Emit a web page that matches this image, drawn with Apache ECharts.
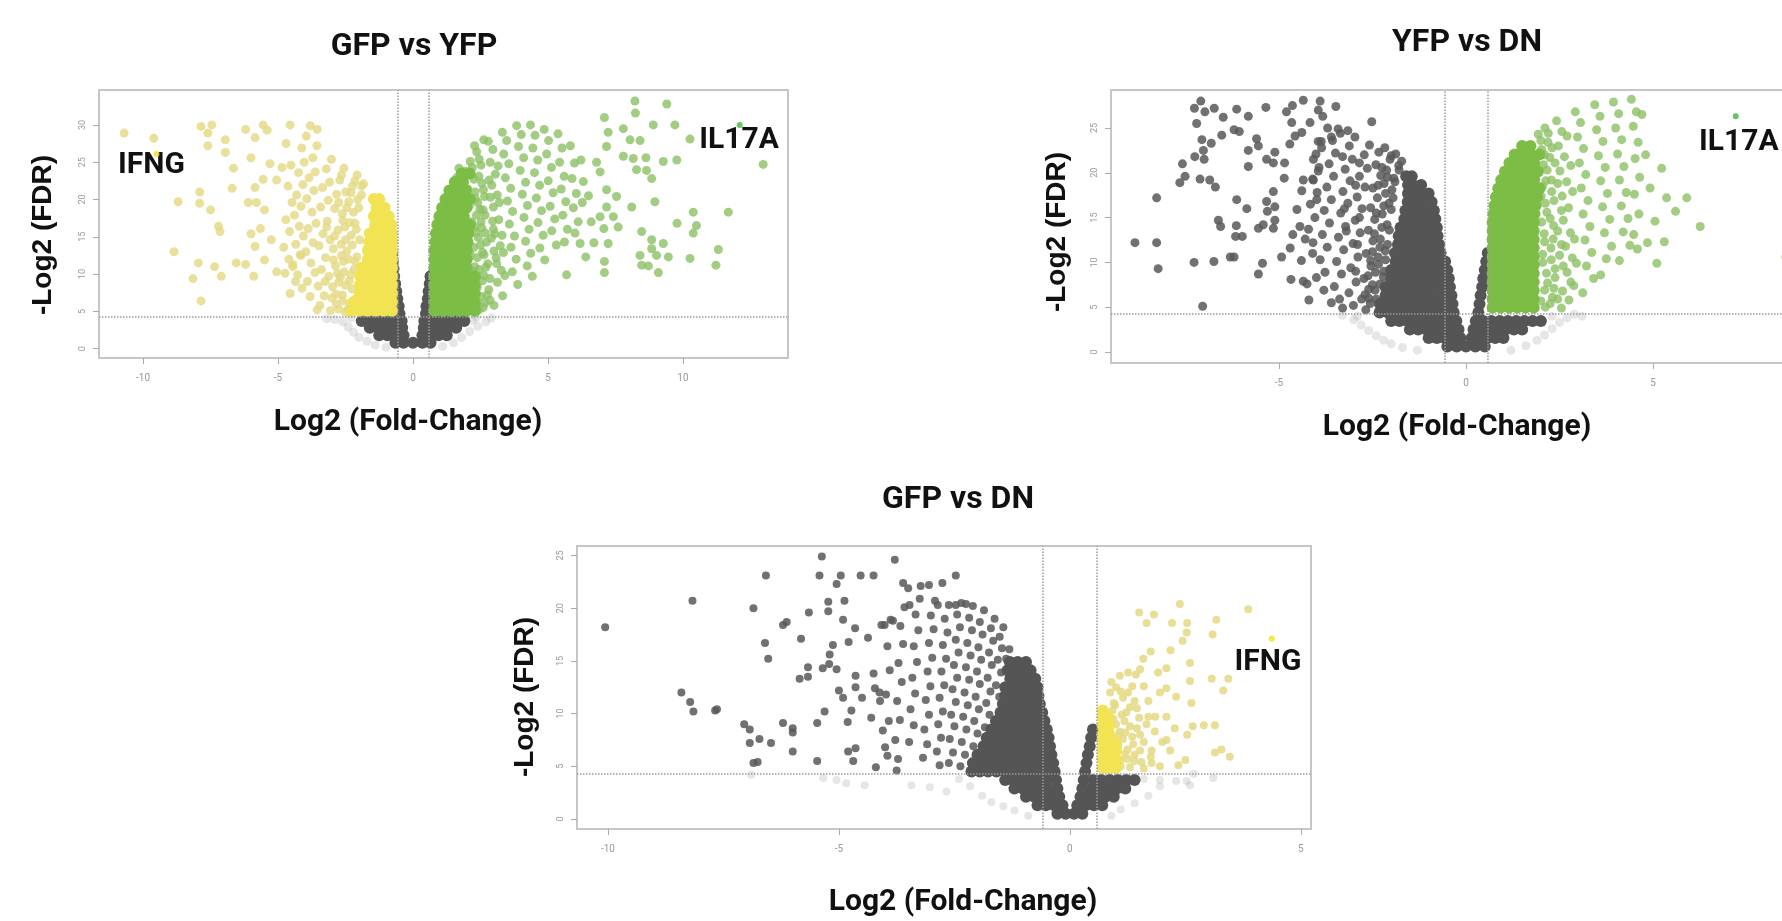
<!DOCTYPE html>
<html>
<head>
<meta charset="utf-8">
<script src="https://cdn.jsdelivr.net/npm/echarts@6.0.0/dist/echarts.min.js"></script>
<style>
  html, body { margin: 0; padding: 0; overflow: hidden; background: #fff; }
  #volcano { width: 1800px; height: 921px; }
</style>
</head>
<body>
<div id="volcano"></div>
<script>
// thresholds: -log2(0.05) and log2(1.5)
var fdrCut = 4.32;
var fcCut = 0.585;

var titles = ['GFP vs YFP', 'YFP vs DN', 'GFP vs DN'];
var xName = 'Log2 (Fold-Change)';
var yName = '-Log2 (FDR)';

var p1XTicks = [-10, -5, 0, 5, 10];
var p1YTicks = [0, 5, 10, 15, 20, 25, 30];
var p2XTicks = [-5, 0, 5];
var p2YTicks = [0, 5, 10, 15, 20, 25];
var p3XTicks = [-10, -5, 0, 5];
var p3YTicks = [0, 5, 10, 15, 20, 25];

// dense areas are kept as rows: [y, x, x, ...]
var p1GrayRows = [
  [0.8, -0.65, -0.35, 0, 0.35, 0.65],
  [1.8, -1.25, -0.95, -0.65, -0.35, 0.35, 0.65, 0.95, 1.25],
  [2.8, -1.6, -1.3, -1.0, -0.7, -0.4, 0.4, 0.7, 1.0, 1.3, 1.6],
  [3.7, -1.9, -1.6, -1.3, -1.0, -0.7, -0.42, 0.42, 0.7, 1.0, 1.3, 1.6, 1.9],
  [4.7, -0.5, 0.48], [5.7, -0.53, 0.5], [6.7, -0.58, 0.55], [7.7, -0.62, 0.58],
  [8.7, -0.66, 0.62], [9.7, -0.7, 0.65], [10.7, -0.72], [11.7, -0.75], [12.7, -0.78]
];
var p1GrayLight = [[-2.6,3.6],[-2.4,2.9],[-2.2,2.2],[-2.9,3.9],[-2.0,1.5],[-1.7,1.0],[-1.4,0.5],[-3.2,4.0],
  [2.2,3.8],[2.4,3.0],[2.1,2.3],[1.8,1.5],[1.5,0.8],[2.7,3.6],[2.9,4.1],[1.1,0.3],[-1.0,0.2],[-2.3,4.1],[2.35,4.2]];
var p1YellowRows = [
  [5.1, -0.77, -1.07, -1.37, -1.67, -1.97, -2.27],
  [6.25, -0.77, -1.07, -1.37, -1.67, -1.97, -2.2],
  [7.4, -0.77, -1.07, -1.37, -1.67, -1.97],
  [8.55, -0.77, -1.07, -1.37, -1.67, -1.97],
  [9.7, -0.77, -1.07, -1.37, -1.67, -1.95],
  [10.85, -0.77, -1.07, -1.37, -1.67, -1.9],
  [12.0, -0.77, -1.07, -1.37, -1.67],
  [13.15, -0.77, -1.07, -1.37, -1.67],
  [14.3, -0.77, -1.07, -1.37, -1.62],
  [15.45, -0.77, -1.07, -1.37, -1.6],
  [16.6, -0.8, -1.1, -1.4],
  [17.75, -0.9, -1.2, -1.45],
  [18.9, -1.05, -1.35],
  [20.05, -1.25, -1.45]
];
var p1Yellow = [[-10.7,28.9],[-9.6,28.2],[-7.85,29.8],[-7.45,30.0],[-7.6,28.9],[-7.6,27.2],[-6.95,28.0],[-6.95,26.3],
  [-6.65,24.2],[-6.2,29.4],[-5.85,28.3],[-6.0,25.6],[-5.55,30.0],[-5.4,29.3],[-4.55,30.0],[-4.7,27.5],[-3.8,29.9],
  [-3.55,29.4],[-8.7,19.7],[-7.9,21.0],[-7.9,19.5],[-7.5,18.6],[-7.2,16.4],[-7.15,15.7],[-8.85,13.0],[-7.95,11.5],
  [-7.35,11.0],[-8.15,9.4],[-7.1,9.7],[-7.85,6.4],[-6.55,11.5],[-6.2,11.3],[-5.9,9.7],[-5.5,11.9],[-6.7,21.5],
  [-5.85,21.6],[-6.1,19.6],[-5.8,19.6],[-5.5,18.6],[-5.3,24.8],[-4.85,24.3],[-5.55,22.7],[-5.05,22.6],[-5.25,14.6],
  [-6.0,15.4],[-5.65,16.1],[-5.85,13.7],[-5.05,10.3],[-4.55,7.4],[-4.45,11.0],[-4.15,12.5],[-4.35,9.0],[-3.55,5.2],
  [-1.83,22.1],[-2.07,23.3],[-1.91,20.6],[-2.24,21.8],[-2.01,18.9],[-2.38,19.7],[-2.15,16.8],[-1.97,14.6],[-2.29,15.2],
  [-2.08,12.3],[-2.45,13.1],[-2.19,10.6],[-2.02,8.4],[-2.36,9.1],[-2.12,6.7],[-2.41,5.3],[-2.27,4.8],
  [-2.56,24.2],[-2.71,22.6],[-2.49,21.0],[-2.83,20.7],[-2.62,18.1],[-2.9,18.8],[-2.53,16.3],[-2.78,15.9],[-2.66,14.0],
  [-2.95,13.4],[-2.58,11.7],[-2.87,11.1],[-2.69,9.6],[-2.98,8.3],[-2.61,7.2],[-2.84,6.0],[-3.06,5.1],
  [-3.02,25.4],[-3.21,24.1],[-3.09,22.3],[-3.35,21.6],[-3.14,19.9],[-3.42,19.0],[-3.18,17.1],[-3.33,15.4],[-3.07,14.6],
  [-3.48,13.8],[-3.24,12.2],[-3.39,10.6],[-3.12,9.7],[-3.51,8.4],[-3.29,7.1],[-3.45,5.8],
  [-3.56,27.2],[-3.71,25.6],[-3.62,23.7],[-3.85,22.9],[-3.67,21.2],[-3.93,20.1],[-3.74,18.3],[-3.59,16.8],[-3.88,16.1],
  [-3.7,14.2],[-3.97,13.0],[-3.78,11.5],[-3.63,10.2],[-3.91,9.0],[-3.81,7.0],
  [-3.95,28.5],[-4.12,26.9],[-4.03,25.0],[-4.24,23.6],[-4.08,22.0],[-4.31,20.6],[-4.15,19.1],[-4.39,17.9],[-4.21,16.4],
  [-4.06,15.1],[-4.34,14.0],[-4.18,12.6],[-4.45,11.3],[-4.27,9.9],[-4.11,8.1],
  [-4.52,24.6],[-4.63,21.8],[-4.48,19.6],[-4.71,17.3],[-4.57,15.7],[-4.79,13.6],[-4.6,12.0],[-4.74,10.1],
  [-1.9,21.8],[-2.15,22.5],[-2.05,20.0],[-2.3,20.9],[-2.2,18.3],[-2.45,18.9],[-2.1,16.0],[-2.35,16.9],[-2.6,17.2],
  [-2.25,13.9],[-2.5,14.6],[-2.15,11.7],[-2.4,12.0],[-2.65,12.5],[-2.3,9.9],[-2.55,10.3],[-2.8,10.1],[-2.25,8.0],
  [-2.5,8.5],[-2.75,8.9],[-2.35,6.0],[-2.6,6.4],[-2.85,7.3],[-2.5,4.9],[-2.75,5.3],[-2.95,11.9],[-2.9,15.1],
  [-2.75,19.6],[-2.65,23.3],[-3.2,16.3],[-3.0,6.8],[-3.25,9.0]];
var p1GreenRows = [
  [5.1, 0.79, 1.09, 1.39, 1.69, 1.99, 2.29],
  [6.25, 0.79, 1.09, 1.39, 1.69, 1.99, 2.29],
  [7.4, 0.79, 1.09, 1.39, 1.69, 1.99, 2.29],
  [8.55, 0.79, 1.09, 1.39, 1.69, 1.99, 2.29],
  [9.7, 0.79, 1.09, 1.39, 1.69, 1.99, 2.29],
  [10.85, 0.79, 1.09, 1.39, 1.69, 1.99],
  [12.0, 0.79, 1.09, 1.39, 1.69, 1.99],
  [13.15, 0.79, 1.09, 1.39, 1.69, 1.99],
  [14.3, 0.82, 1.12, 1.42, 1.72, 2.02],
  [15.45, 0.85, 1.15, 1.45, 1.75, 2.05],
  [16.6, 0.9, 1.2, 1.5, 1.8, 2.1],
  [17.75, 0.98, 1.28, 1.58, 1.88],
  [18.9, 1.08, 1.38, 1.68, 1.98],
  [20.05, 1.2, 1.5, 1.8, 2.1],
  [21.2, 1.35, 1.65, 1.95],
  [22.35, 1.55, 1.85],
  [23.5, 1.8, 2.1]
];
var p1Green = [[1.94,23.8],[2.12,25.1],[2.03,21.4],[2.26,22.7],[2.09,19.2],[2.31,20.1],[2.17,17.0],[2.02,14.9],[2.35,15.6],
  [2.13,12.6],[2.29,11.0],[2.06,9.3],[2.38,8.2],[2.21,6.6],[2.44,5.2],
  [2.36,26.4],[2.52,24.6],[2.44,23.1],[2.61,21.3],[2.48,18.7],[2.67,17.9],[2.55,16.2],[2.72,14.3],[2.58,12.9],
  [2.77,11.4],[2.63,9.8],[2.81,7.9],[2.66,6.1],
  [2.79,27.8],[2.96,26.7],[2.86,25.0],[3.05,23.4],[2.92,21.9],[3.12,20.6],[2.98,19.0],[3.18,17.3],[3.03,15.4],
  [3.23,13.8],[3.08,12.2],[3.27,10.5],[3.13,8.9],[3.32,7.1],[3.0,5.8],
  [3.31,29.0],[3.47,27.9],[3.36,26.1],[3.55,24.8],[3.42,22.9],[3.62,21.5],[3.5,19.8],[3.69,18.4],[3.57,16.7],
  [3.76,15.1],[3.63,13.6],[3.82,12.0],[3.68,10.3],[3.88,8.6],
  [3.84,29.9],[4.01,28.7],[3.91,27.1],[4.1,25.6],[3.97,23.9],[4.17,22.3],[4.05,20.7],[4.24,19.2],[4.11,17.6],
  [4.3,16.0],[4.17,14.4],[4.36,12.8],[4.23,11.1],[4.42,9.7],
  [4.35,30.0],[4.52,28.6],[4.44,26.9],[4.62,25.3],[4.5,23.6],[4.69,21.9],[4.57,20.2],[4.76,18.5],[4.63,16.9],
  [4.82,15.2],[4.7,13.5],[4.88,11.9],
  [4.86,29.4],[5.02,27.9],[4.95,26.1],[5.13,24.3],[5.01,22.5],[5.19,20.9],[5.08,19.1],[5.25,17.4],[5.14,15.8],[5.31,13.9],
  [5.37,28.8],[5.52,26.9],[5.43,25.0],[5.6,23.1],[5.49,21.4],[5.66,19.7],[5.55,17.9],[5.72,16.0],[5.61,14.3],
  [5.83,27.2],[5.98,24.9],[5.89,22.8],[6.05,20.8],[5.94,18.9],[6.12,17.0],[6.0,15.5],
  [6.22,25.3],[6.31,22.4],[6.27,19.6],[1.7,24.2],[1.62,22.9],[2.28,27.2],[2.62,28.0],
  [2.2,24.3],[2.45,25.4],[2.3,21.0],[2.55,22.2],[2.4,19.6],[2.65,20.4],[2.35,17.9],[2.6,18.6],[2.28,16.3],[2.52,17.0],
  [2.42,14.9],[2.68,15.5],[2.25,13.6],[2.5,13.9],[2.38,12.2],[2.63,12.6],[2.2,10.3],[2.45,10.6],[2.7,10.9],[2.32,8.9],
  [2.57,9.1],[2.85,9.4],[2.27,7.3],[2.52,7.0],[2.75,7.2],[2.36,5.9],[2.6,5.5],[2.85,6.5],[2.9,14.8],[2.95,17.1],
  [2.87,20.3],[2.82,22.6],[3.15,24.5],[3.2,19.6],[3.1,11.4],[3.0,13.1],[2.98,16.0],[3.3,15.2],[3.35,12.9],[3.4,9.8],
  [8.22,33.2],[9.4,32.8],[8.24,31.6],[7.09,31.0],[7.79,29.5],[7.23,29.0],[8.9,30.0],[9.7,30.0],[8.04,28.0],
  [8.41,27.9],[10.26,28.1],[12.97,24.7],[7.17,27.1],[7.79,25.8],[8.16,25.5],[8.63,25.6],[9.27,25.1],[9.77,25.3],
  [8.28,24.0],[8.65,23.9],[8.84,22.8],[6.8,25.0],[6.93,23.7],[7.17,21.3],[7.54,20.4],[7.17,19.0],[6.93,17.7],
  [7.42,17.7],[7.07,16.1],[8.1,19.0],[8.96,19.7],[10.38,18.3],[10.5,16.5],[10.38,15.5],[9.78,16.8],[11.68,18.3],
  [8.47,15.7],[8.84,14.6],[9.27,14.1],[8.84,13.4],[8.41,12.5],[9.02,12.5],[9.46,12.3],[8.47,11.2],[8.72,11.1],
  [9.09,10.2],[10.26,12.1],[11.31,13.3],[11.22,11.2],[7.09,11.7],[7.09,10.2],[6.7,14.2],[7.23,14.1],[6.19,14.1],
  [7.6,16.3],[5.69,9.9],[6.5,20.5],[6.6,17.0],[6.4,12.3]];
var p1Genes = [{name: 'IFNG', value: [-9.5, 26.1], color: '#f3e21a'}, {name: 'IL17A', value: [12.1, 30.0], color: '#3cb83c'}];

var p2GrayRows = [
  [0.6, -0.5, -0.25, 0, 0.25, 0.5],
  [1.55, -1.0, -0.78, -0.56, -0.34, -0.15, 0.15, 0.34, 0.56, 0.78, 1.0],
  [2.5, -1.5, -1.28, -1.06, -0.84, -0.62, -0.4, -0.2, 0.2, 0.4, 0.62, 0.84, 1.06, 1.28, 1.5],
  [3.45, -2.0, -1.78, -1.56, -1.34, -1.12, -0.9, -0.68, -0.46, -0.26, 0.26, 0.46, 0.68, 0.9, 1.12, 1.34, 1.56, 1.78, 2.0],
  [4.4, 0.33], [5.35, 0.36], [6.3, 0.39], [7.25, 0.43], [8.2, 0.46], [9.15, 0.5], [10.1, 0.54], [11.05, 0.58],
  [4.4, -0.33, -0.55, -0.77, -0.99, -1.21, -1.43, -1.65, -1.87, -2.09, -2.31],
  [5.35, -0.36, -0.58, -0.8, -1.02, -1.24, -1.46, -1.68, -1.9, -2.12, -2.3],
  [6.3, -0.39, -0.61, -0.83, -1.05, -1.27, -1.49, -1.71, -1.93, -2.15],
  [7.25, -0.43, -0.65, -0.87, -1.09, -1.31, -1.53, -1.75, -1.97, -2.15],
  [8.2, -0.46, -0.68, -0.9, -1.12, -1.34, -1.56, -1.78, -2.0],
  [9.15, -0.5, -0.72, -0.94, -1.16, -1.38, -1.6, -1.82, -2.0],
  [10.1, -0.56, -0.78, -1.0, -1.22, -1.44, -1.66, -1.88],
  [11.05, -0.68, -0.9, -1.12, -1.34, -1.56, -1.78, -1.9],
  [12.0, -0.72, -0.94, -1.16, -1.38, -1.6, -1.82],
  [12.95, -0.76, -0.98, -1.2, -1.42, -1.64, -1.8],
  [13.9, -0.78, -1.0, -1.22, -1.44, -1.66, -1.75],
  [14.85, -0.82, -1.04, -1.26, -1.48, -1.65],
  [15.8, -0.86, -1.08, -1.3, -1.52, -1.62],
  [16.75, -0.92, -1.14, -1.36, -1.56],
  [17.7, -1.0, -1.22, -1.44, -1.55],
  [18.65, -1.2, -1.42, -1.55],
  [19.6, -1.45, -1.6]
];
var p2GrayLight = [[-3.0,3.6],[-2.8,3.0],[-2.6,2.4],[-2.9,4.0],[-2.4,1.8],[-2.2,1.3],[-3.3,4.1],[-2.0,0.9],[-1.7,0.5],
  [2.3,4.0],[2.5,3.3],[2.7,3.8],[2.3,2.6],[2.1,1.9],[1.9,1.3],[2.9,4.2],[3.1,4.0],[1.6,0.7],[-1.3,0.2],[1.2,0.2]];
var p2Gray = [[-7.09,28.0],[-7.26,27.2],[-6.98,26.8],[-6.73,27.2],[-6.13,27.1],[-5.82,26.3],[-5.35,27.3],[-4.8,26.8],
  [-4.64,27.5],[-4.35,28.1],[-3.9,28.0],[-3.48,27.4],[-3.95,27.0],[-3.83,26.3],[-2.52,25.7],[-7.2,25.5],[-6.49,26.2],
  [-6.2,24.8],[-7.06,23.7],[-6.81,23.3],[-7.02,22.5],[-7.0,21.5],[-7.25,21.8],[-7.58,21.0],[-6.53,24.2],[-6.06,24.6],
  [-5.82,22.5],[-5.82,20.7],[-5.6,23.8],[-5.55,23.0],[-5.33,21.5],[-5.15,21.1],[-4.86,19.4],[-7.65,18.9],[-7.51,19.6],
  [-7.11,19.3],[-6.85,19.2],[-6.7,18.4],[-8.27,17.2],[-8.85,12.2],[-8.27,12.2],[-8.23,9.3],[-7.27,10.0],[-6.74,10.1],
  [-7.04,5.1],[-6.13,17.0],[-5.86,16.0],[-6.62,14.7],[-6.56,14.0],[-6.14,14.1],[-5.98,12.9],[-6.16,12.9],[-6.3,10.6],
  [-6.2,10.6],[-5.55,13.8],[-5.42,14.2],[-5.55,8.7],[-5.44,9.9],[-5.33,16.8],[-5.31,15.7],[-5.15,17.9],[-5.11,16.2],
  [-5.11,14.7],[-5.15,13.8],[-4.93,10.6],[-4.68,8.1],[-4.35,7.9],[-4.63,13.1],[-4.44,14.0],[-4.52,15.9],[-4.85,21.1],
  [-5.11,22.3],[-4.71,23.2],[-4.57,24.1],[-4.66,25.6],[-4.39,24.5],[-4.17,25.6],[-3.95,23.5],[-3.86,22.8],[-4.08,21.5],
  [-3.95,20.2],[-3.7,25.0],[-3.6,24.0],[-3.36,24.4],[-3.16,24.7],[-4.35,19.2],[-4.08,19.2],[-4.39,18.0],[-3.99,17.0],
  [-4.3,12.6],[-4.1,11.0],[-4.4,10.2],[-4.0,8.3],[-3.8,6.9],[-3.6,5.5],[-4.2,5.8],[-3.3,4.9],[-4.7,11.6],
  [-1.72,21.3],[-1.88,22.1],[-1.79,20.3],[-2.03,21.5],[-1.93,19.4],[-2.12,20.3],[-1.98,18.1],[-2.19,18.8],[-2.06,16.6],
  [-2.24,15.4],[-2.11,14.2],[-2.29,12.6],[-2.16,11.3],[-2.34,9.8],[-2.21,8.4],[-2.43,6.9],[-2.56,5.4],[-2.68,4.7],
  [-2.17,22.8],[-2.33,22.3],[-2.41,20.9],[-2.28,19.7],[-2.49,18.3],[-2.37,17.2],[-2.55,16.1],[-2.44,14.8],[-2.61,13.6],
  [-2.49,12.4],[-2.67,11.0],[-2.54,9.6],[-2.73,8.2],[-2.6,7.0],[-2.79,5.9],
  [-2.58,23.1],[-2.72,22.0],[-2.64,20.5],[-2.85,19.6],[-2.7,18.4],[-2.91,17.3],[-2.78,16.0],[-2.96,14.7],[-2.83,13.3],
  [-3.02,12.1],[-2.89,10.6],[-3.08,9.4],[-2.94,7.8],[-3.13,6.6],[-3.01,5.2],
  [-2.97,24.0],[-3.12,23.0],[-3.04,21.5],[-3.23,20.4],[-3.1,19.1],[-3.29,17.9],[-3.16,16.6],[-3.35,15.5],[-3.22,14.0],
  [-3.41,12.8],[-3.27,11.4],[-3.46,10.1],[-3.33,8.7],[-3.52,7.3],[-3.38,5.9],
  [-3.42,24.9],[-3.57,23.6],[-3.49,22.2],[-3.66,21.0],[-3.54,19.6],[-3.72,18.4],[-3.6,17.0],[-3.79,15.8],[-3.65,14.4],
  [-3.84,13.1],[-3.71,11.7],[-3.9,10.3],[-3.77,8.9],
  [-3.87,23.5],[-4.01,22.1],[-3.93,20.6],[-4.1,19.3],[-3.98,17.8],[-4.16,16.5],[-4.04,15.0],[-4.21,13.7],[-4.09,12.2],[-4.25,7.6],
  [-1.8,20.8],[-2.0,21.9],[-1.9,19.0],[-2.1,19.5],[-2.25,20.6],[-1.95,17.2],[-2.15,17.7],[-2.35,18.6],[-2.0,15.9],
  [-2.2,16.3],[-2.4,15.5],[-2.05,13.6],[-2.25,13.9],[-2.45,13.2],[-2.1,12.0],[-2.3,11.7],[-2.5,11.2],[-2.15,10.3],
  [-2.35,10.6],[-2.55,10.2],[-2.2,9.0],[-2.42,8.9],[-2.62,8.5],[-2.3,7.6],[-2.5,7.5],[-2.7,6.4],[-2.4,5.9],[-2.6,6.0],
  [-2.85,21.1],[-2.95,18.6],[-2.85,15.0],[-2.9,12.0],[-2.95,9.0],[-3.2,13.5],[-3.25,16.0],[-3.3,21.8]];
var p2GreenRows = [
  [4.95, 0.71, 0.93, 1.15, 1.37, 1.59, 1.81],
  [5.9, 0.71, 0.93, 1.15, 1.37, 1.59, 1.81],
  [6.85, 0.71, 0.93, 1.15, 1.37, 1.59, 1.81],
  [7.8, 0.71, 0.93, 1.15, 1.37, 1.59, 1.81],
  [8.75, 0.71, 0.93, 1.15, 1.37, 1.59, 1.81],
  [9.7, 0.71, 0.93, 1.15, 1.37, 1.59, 1.81],
  [10.65, 0.71, 0.93, 1.15, 1.37, 1.59, 1.81],
  [11.6, 0.71, 0.93, 1.15, 1.37, 1.59, 1.81],
  [12.55, 0.71, 0.93, 1.15, 1.37, 1.59, 1.81],
  [13.5, 0.71, 0.93, 1.15, 1.37, 1.59, 1.81],
  [14.45, 0.71, 0.93, 1.15, 1.37, 1.59, 1.81],
  [15.4, 0.73, 0.95, 1.17, 1.39, 1.61, 1.83],
  [16.35, 0.76, 0.98, 1.2, 1.42, 1.64, 1.86],
  [17.3, 0.8, 1.02, 1.24, 1.46, 1.68, 1.9],
  [18.25, 0.86, 1.08, 1.3, 1.52, 1.74, 1.96],
  [19.2, 0.94, 1.16, 1.38, 1.6, 1.82],
  [20.15, 1.04, 1.26, 1.48, 1.7, 1.92],
  [21.1, 1.16, 1.38, 1.6, 1.82],
  [22.05, 1.3, 1.52, 1.74, 1.96],
  [23.0, 1.5, 1.72]
];
var p2Green = [[1.93,24.3],[2.11,25.0],[2.02,22.6],[2.19,23.4],[2.07,20.9],[2.24,21.7],[2.13,19.1],[2.01,17.4],[2.29,17.9],
  [2.16,15.6],[2.34,14.1],[2.09,13.2],[2.27,11.6],[2.05,10.0],[2.38,9.3],[2.18,7.7],[2.31,6.1],[2.12,5.0],
  [2.42,25.8],[2.56,24.6],[2.47,23.0],[2.63,21.8],[2.51,20.2],[2.69,19.0],[2.57,17.4],[2.74,16.1],[2.6,14.7],
  [2.79,13.3],[2.66,11.8],[2.84,10.5],[2.7,8.9],[2.88,7.4],[2.75,5.8],[2.55,4.9],
  [2.92,26.8],[3.06,25.6],[2.98,24.0],[3.14,22.7],[3.03,21.1],[3.2,19.8],[3.08,18.3],[3.26,16.9],[3.13,15.4],
  [3.31,14.0],[3.18,12.5],[3.36,11.1],[3.22,9.6],[3.41,8.2],[3.12,6.6],
  [3.44,27.6],[3.58,26.3],[3.49,24.8],[3.66,23.5],[3.54,21.9],[3.72,20.6],[3.6,19.1],[3.78,17.7],[3.65,16.2],
  [3.84,14.8],[3.7,13.3],[3.89,11.8],[3.75,10.4],[3.6,8.6],
  [3.94,27.9],[4.08,26.6],[4.0,25.0],[4.16,23.7],[4.05,22.1],[4.22,20.7],[4.1,19.2],[4.28,17.8],[4.15,16.3],
  [4.33,14.9],[4.2,13.4],[4.38,11.9],[4.1,10.2],
  [4.42,28.2],[4.55,26.8],[4.47,25.2],[4.6,23.4],[4.52,21.6],[4.64,19.5],[4.5,17.6],[4.62,15.4],[4.48,13.1],[4.58,11.5],
  [2.0,23.6],[2.2,24.4],[2.1,22.0],[2.3,22.8],[2.17,20.3],[2.38,21.1],[2.05,18.5],[2.28,19.2],[2.45,18.8],[2.12,16.6],
  [2.35,16.9],[2.55,15.8],[2.02,14.5],[2.25,14.9],[2.45,13.5],[2.1,12.3],[2.33,12.6],[2.55,12.0],[2.05,10.9],[2.28,10.3],
  [2.5,10.8],[2.15,8.8],[2.38,8.3],[2.6,9.6],[2.1,6.9],[2.35,7.1],[2.58,6.8],[2.0,5.7],[2.25,5.4],[2.45,5.9],
  [2.7,24.1],[2.8,20.8],[2.85,17.9],[2.9,12.6],[2.95,9.9],[2.8,7.8],
  [5.9,17.2],[6.26,14.0],[5.6,15.7],[5.36,17.2],[5.23,20.5],[4.92,18.3],[5.1,9.9],[5.3,12.3],[4.8,22.0],
  [4.7,26.5],[5.05,14.6],[4.85,12.2],[8.55,10.6]];
var p2Genes = [{name: 'IL17A', value: [7.21, 26.3], color: '#3cb83c'}];

var p3GrayRows = [
  [0.5, -0.27, -0.09, 0.09, 0.27],
  [1.3, -0.7, -0.52, -0.34, -0.16, 0.16, 0.34, 0.52, 0.7],
  [2.1, -0.95, -0.77, -0.59, -0.41, -0.23, 0.23, 0.41, 0.59, 0.77, 0.95],
  [2.9, -1.2, -1.02, -0.84, -0.66, -0.48, -0.27, 0.27, 0.48, 0.66, 0.84, 1.02, 1.2],
  [3.7, -1.4, -1.22, -1.04, -0.86, -0.68, -0.5, -0.3, 0.3, 0.5, 0.68, 0.86, 1.04, 1.22, 1.4],
  [4.5, 0.33], [5.3, 0.36], [6.1, 0.39], [6.9, 0.43], [7.7, 0.46], [8.5, 0.5],
  [4.5, -0.33, -0.51, -0.69, -0.87, -1.05, -1.23, -1.41, -1.59, -1.77, -1.95, -2.13],
  [5.3, -0.36, -0.54, -0.72, -0.9, -1.08, -1.26, -1.44, -1.62, -1.8, -1.98, -2.1],
  [6.1, -0.4, -0.58, -0.76, -0.94, -1.12, -1.3, -1.48, -1.66, -1.84, -2.0],
  [6.9, -0.43, -0.61, -0.79, -0.97, -1.15, -1.33, -1.51, -1.69, -1.87],
  [7.7, -0.46, -0.64, -0.82, -1.0, -1.18, -1.36, -1.54, -1.72, -1.8],
  [8.5, -0.5, -0.68, -0.86, -1.04, -1.22, -1.4, -1.58, -1.7],
  [9.3, -0.55, -0.73, -0.91, -1.09, -1.27, -1.45, -1.6],
  [10.1, -0.6, -0.78, -0.96, -1.14, -1.32, -1.5],
  [10.9, -0.65, -0.83, -1.01, -1.19, -1.37, -1.45],
  [11.7, -0.68, -0.86, -1.04, -1.22, -1.4],
  [12.5, -0.7, -0.88, -1.06, -1.24, -1.4],
  [13.3, -0.75, -0.93, -1.11, -1.29],
  [14.1, -0.85, -1.03, -1.21, -1.35],
  [14.9, -0.95, -1.13, -1.3]
];
var p3GrayLight = [[-5.34,3.9],[-5.05,3.7],[-4.84,3.4],[-4.44,3.2],[-3.43,3.2],[-3.03,3.0],[-2.67,2.6],[-2.16,3.1],
  [-1.9,2.2],[-1.7,1.6],[-1.44,1.2],[-2.4,3.8],[-1.2,0.8],[1.6,3.8],[1.95,3.1],[2.3,3.6],[2.6,3.2],[3.1,3.9],
  [1.7,2.2],[1.4,1.5],[1.1,0.9],[1.95,3.7],[2.53,3.6],[2.68,4.3],[-6.9,4.2],[-0.9,0.3],[0.9,0.3]];
var p3Gray = [[-10.06,18.2],[-8.17,20.7],[-8.41,12.0],[-8.22,11.1],[-8.15,10.2],[-7.68,10.3],[-7.64,10.4],[-7.05,9.0],
  [-6.93,8.5],[-6.93,7.2],[-6.85,5.3],[-6.76,5.4],[-6.72,7.6],[-6.47,7.2],[-6.85,20.0],[-6.58,23.1],[-6.6,16.7],
  [-6.53,15.2],[-6.21,18.4],[-6.13,18.7],[-6.21,9.1],[-6.0,8.6],[-6.0,8.2],[-6.0,6.4],[-5.82,17.1],[-5.85,13.3],
  [-5.67,14.4],[-5.67,13.5],[-5.65,19.6],[-5.47,9.1],[-5.47,5.5],[-5.42,23.1],[-5.37,24.9],[-5.31,10.2],[-5.35,14.3],
  [-5.23,20.6],[-5.23,19.7],[-5.2,15.6],[-5.21,14.7],[-5.13,16.5],[-5.05,14.2],[-5.05,22.3],[-4.96,23.1],[-4.91,18.9],
  [-4.88,20.7],[-5.0,12.2],[-4.91,11.5],[-4.81,9.2],[-4.73,10.3],[-4.69,5.5],[-4.8,6.4],[-4.64,6.7],[-4.79,16.8],
  [-4.65,18.1],[-4.64,13.6],[-4.64,12.5],[-4.53,23.1],[-4.25,23.1],[-4.5,11.5],[-4.37,17.2],[-4.25,13.8],[-4.22,12.4],
  [-4.11,11.2],[-4.12,12.0],[-4.08,18.4],[-4.01,18.4],[-3.83,18.8],[-3.79,24.6],[-3.61,22.4],[-3.5,21.9],[-3.47,20.3],
  [-3.23,22.1],[-3.05,22.2],[-2.76,22.4],[-2.47,23.1],[-2.86,20.3],[-2.47,20.3],[-2.25,20.4],[-4.3,9.6],[-4.05,8.4],
  [-3.95,6.0],[-4.2,4.9],[-3.75,4.6],
  [-1.31,16.1],[-1.38,15.2],[-1.44,18.2],[-1.52,17.3],[-1.47,16.2],[-1.56,15.1],[-1.49,13.9],[-1.6,12.7],[-1.53,11.6],
  [-1.63,19.0],[-1.71,18.1],[-1.66,16.9],[-1.75,15.8],[-1.69,14.6],[-1.78,13.4],[-1.72,12.1],[-1.81,11.0],[-1.74,9.9],[-1.84,8.7],
  [-1.86,19.8],[-1.95,18.7],[-1.89,17.5],[-1.98,16.3],[-1.92,15.1],[-2.01,14.0],[-1.95,12.8],[-2.04,11.6],[-1.97,10.4],
  [-2.07,9.3],[-2.0,8.1],[-2.09,6.9],
  [-2.1,20.2],[-2.18,19.1],[-2.12,17.9],[-2.22,16.7],[-2.15,15.5],[-2.25,14.4],[-2.18,13.2],[-2.28,12.0],[-2.21,10.8],
  [-2.31,9.7],[-2.24,8.5],[-2.34,7.3],[-2.27,6.1],[-2.37,5.0],
  [-2.35,20.5],[-2.44,19.4],[-2.38,18.2],[-2.47,17.0],[-2.41,15.8],[-2.51,14.6],[-2.44,13.4],[-2.54,12.3],[-2.47,11.1],
  [-2.57,9.9],[-2.5,8.8],[-2.6,7.6],[-2.53,6.3],[-2.62,5.3],
  [-2.62,20.3],[-2.71,19.0],[-2.65,17.7],[-2.75,16.5],[-2.68,15.2],[-2.78,14.0],[-2.72,12.7],[-2.82,11.5],[-2.75,10.2],
  [-2.85,9.0],[-2.79,7.7],[-2.88,6.4],[-2.82,5.1],
  [-2.92,20.7],[-3.01,19.3],[-2.95,18.0],[-3.05,16.7],[-2.98,15.3],[-3.08,14.0],[-3.02,12.6],[-3.12,11.3],[-3.05,9.9],
  [-3.15,8.5],[-3.09,7.1],[-3.18,5.8],
  [-3.25,20.9],[-3.34,19.4],[-3.28,17.9],[-3.38,16.4],[-3.31,14.9],[-3.41,13.4],[-3.35,11.9],[-3.45,10.4],[-3.38,8.9],[-3.48,7.3],
  [-3.58,20.1],[-3.67,18.3],[-3.61,16.6],[-3.71,14.8],[-3.64,13.0],[-3.74,11.2],[-3.68,9.4],[-3.78,7.5],[-3.72,5.7],
  [-3.88,18.9],[-3.95,16.4],[-3.9,14.1],[-3.98,11.8],[-3.92,9.3],[-4.0,6.8]];
var p3YellowRows = [
  [4.87, 0.71, 0.85, 1.0],
  [5.67, 0.71, 0.85, 1.0],
  [6.47, 0.71, 0.85, 1.0],
  [7.27, 0.71, 0.85, 0.98],
  [8.07, 0.71, 0.85],
  [8.87, 0.71, 0.85],
  [9.67, 0.71, 0.82],
  [10.3, 0.71]
];
var p3Yellow = [[2.38,20.4],[3.86,19.9],[1.5,19.6],[1.82,19.4],[3.17,18.9],[1.66,18.6],[2.21,18.6],[2.54,18.6],
  [2.53,17.7],[3.09,17.5],[2.44,16.9],[2.18,16.0],[1.75,15.9],[1.59,15.2],[2.6,14.8],[2.09,14.3],[1.91,13.9],
  [1.52,14.2],[1.43,13.7],[1.26,13.9],[1.08,13.6],[3.07,13.3],[3.43,13.3],[2.6,13.1],[3.32,12.2],[2.63,11.0],
  [2.09,12.4],[1.95,12.0],[1.7,11.2],[0.9,13.0],[1.0,12.5],[0.87,12.0],[1.26,12.0],[1.4,11.2],[1.22,10.1],
  [1.7,9.7],[2.09,9.7],[2.27,8.6],[2.09,7.5],[2.17,6.5],[2.54,8.0],[2.66,8.8],[2.9,8.9],[3.14,8.9],[3.14,6.3],
  [3.28,6.6],[3.46,5.9],[1.95,5.0],[1.77,5.3],[1.52,6.5],[1.77,6.5],[1.37,7.1],[1.08,8.3],[0.94,9.5],[1.12,9.9],
  [1.3,8.8],[1.52,8.0],[1.66,9.0],[1.84,8.3],[2.0,7.3],[1.2,6.2],[1.4,5.5],[1.1,5.0],[1.6,4.8],[0.95,11.0],
  [1.15,11.5],[0.92,10.3],[1.05,7.0],[1.25,5.7],[1.5,9.6],[1.85,9.7],[2.3,11.6],[2.35,5.1],[2.5,5.6],[1.35,12.6],
  [1.6,12.6],[1.15,7.6],[1.3,4.9],[0.95,6.0],[1.45,10.5],
  [1.1,5.6],[1.25,6.6],[1.05,7.9],[1.2,8.2],[1.4,6.1],[1.35,7.8],[1.55,5.4],[1.0,9.0],[1.18,9.3],[1.6,7.3],
  [1.45,8.6],[1.75,5.9],[0.98,10.8],[1.3,10.6],[1.1,12.1]];
var p3Genes = [{name: 'IFNG', value: [4.37, 17.1], color: '#f3e21a'}];

function rows(table) {
  var out = [];
  table.forEach(function (r) {
    for (var i = 1; i < r.length; i++) out.push([r[i], r[0]]);
  });
  return out;
}

var panels = [
  { grid: {left: 99, top: 90, width: 689, height: 268}, x: [-11.63, 13.89], y: [-1.25, 34.68],
    xt: p1XTicks, yt: p1YTicks,
    layers: [
      {data: p1GrayLight, color: '#9a9a9a', size: 9, opacity: 0.25},
      {data: rows(p1GrayRows), color: '#555555', size: 12, opacity: 1},
      {data: p1Yellow, color: '#e4d982', size: 9, opacity: 0.8},
      {data: p1Green, color: '#8cc064', size: 9, opacity: 0.8},
      {data: rows(p1YellowRows), color: '#f1e352', size: 12, opacity: 1},
      {data: rows(p1GreenRows), color: '#7bbd45', size: 12, opacity: 1}
    ], genes: p1Genes },
  { grid: {left: 1111, top: 90, width: 688, height: 273}, x: [-9.49, 8.9], y: [-1.23, 29.24],
    xt: p2XTicks, yt: p2YTicks,
    layers: [
      {data: p2GrayLight, color: '#9a9a9a', size: 9, opacity: 0.25},
      {data: p2Gray, color: '#585858', size: 9, opacity: 0.85},
      {data: rows(p2GrayRows), color: '#555555', size: 12, opacity: 1},
      {data: p2Green, color: '#8cc064', size: 9, opacity: 0.8},
      {data: rows(p2GreenRows), color: '#7bbd45', size: 12, opacity: 1}
    ], genes: p2Genes },
  { grid: {left: 577, top: 546, width: 734, height: 283}, x: [-10.67, 5.22], y: [-0.95, 25.9],
    xt: p3XTicks, yt: p3YTicks,
    layers: [
      {data: p3GrayLight, color: '#9a9a9a', size: 8, opacity: 0.25},
      {data: p3Gray, color: '#585858', size: 8, opacity: 0.85},
      {data: rows(p3GrayRows), color: '#555555', size: 12, opacity: 1},
      {data: p3Yellow, color: '#e4d982', size: 8, opacity: 0.85},
      {data: rows(p3YellowRows), color: '#f1e352', size: 12, opacity: 1}
    ], genes: p3Genes }
];

var grids = [], xAxes = [], yAxes = [], series = [];
panels.forEach(function (p, i) {
  grids.push(Object.assign({show: true, borderColor: '#c6c6c6', borderWidth: 2, outerBoundsMode: 'none'}, p.grid));
  var tick = {show: true, length: 6, lineStyle: {color: '#aaa'}};
  xAxes.push({
    type: 'value', gridIndex: i, min: p.x[0], max: p.x[1], position: 'bottom',
    axisLine: {show: false, onZero: false}, splitLine: {show: false},
    axisTick: Object.assign({customValues: p.xt}, tick),
    axisLabel: {customValues: p.xt, color: '#999', fontSize: 10, margin: 15, fontFamily: 'Roboto'}
  });
  yAxes.push({
    type: 'value', gridIndex: i, min: p.y[0], max: p.y[1], position: 'left',
    axisLine: {show: false, onZero: false}, splitLine: {show: false},
    axisTick: Object.assign({customValues: p.yt}, tick),
    axisLabel: {customValues: p.yt, rotate: 90, color: '#999', fontSize: 9, margin: 12, fontFamily: 'Roboto'}
  });
  p.layers.forEach(function (l, k) {
    var s = {
      type: 'scatter', xAxisIndex: i, yAxisIndex: i, silent: true,
      symbolSize: l.size, data: l.data,
      itemStyle: {color: l.color, opacity: l.opacity}
    };
    if (k === 0) {
      s.markLine = {
        silent: true, symbol: ['none', 'none'], label: {show: false},
        lineStyle: {color: '#9a9a9a', type: 'dotted', width: 1.5},
        data: [{yAxis: fdrCut}, {xAxis: -fcCut}, {xAxis: fcCut}]
      };
    }
    series.push(s);
  });
  series.push({
    type: 'scatter', xAxisIndex: i, yAxisIndex: i, silent: true, symbolSize: 6,
    data: p.genes.map(function (g) { return {name: g.name, value: g.value, itemStyle: {color: g.color}}; })
  });
});

function txt(s, x, y, opt) {
  opt = opt || {};
  return {
    type: 'text', x: x, y: y, rotation: opt.rot || 0, silent: true,
    style: {
      text: s, fill: '#111',
      font: opt.font || 'bold 30px Roboto',
      textAlign: opt.align || 'center', textVerticalAlign: 'middle'
    }
  };
}
var titleFont = 'bold 32px Roboto';
var nameFont = 'bold 30px Roboto';
var yFont = 'bold 28px "Liberation Sans"';
var graphics = [
  txt(titles[0], 414, 47, {font: titleFont}), txt(titles[1], 1467, 43, {font: titleFont}),
  txt(titles[2], 958, 500, {font: titleFont}),
  txt(xName, 408, 422, {font: nameFont}), txt(xName, 1457, 427, {font: nameFont}),
  txt(xName, 963, 902, {font: nameFont}),
  txt(yName, 43, 235, {rot: Math.PI / 2, font: yFont}),
  txt(yName, 1057, 232, {rot: Math.PI / 2, font: yFont}),
  txt(yName, 525, 697, {rot: Math.PI / 2, font: yFont}),
  txt(p1Genes[0].name, 118, 165, {align: 'left'}),
  txt(p1Genes[1].name, 739, 140),
  txt(p2Genes[0].name, 1699, 142, {align: 'left'}),
  txt(p3Genes[0].name, 1268, 662)
];

var chart = echarts.init(document.getElementById('volcano'));
chart.setOption({
  animation: false,
  backgroundColor: '#fff',
  grid: grids,
  xAxis: xAxes,
  yAxis: yAxes,
  series: series,
  graphic: graphics
});
</script>
</body>
</html>
